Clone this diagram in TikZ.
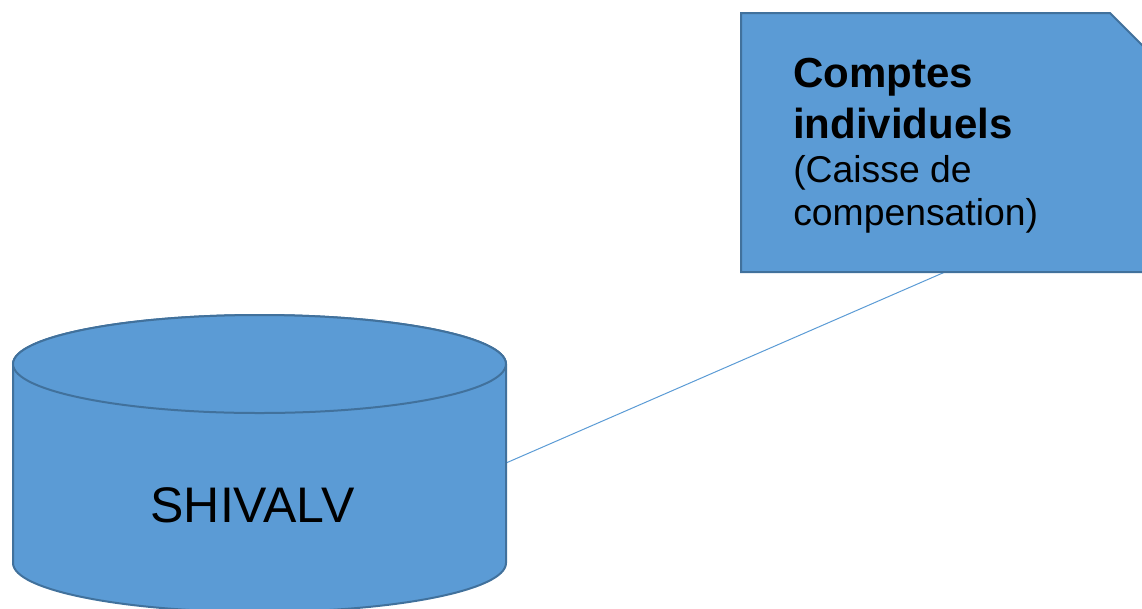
\documentclass[tikz,border=0pt]{standalone}
\usepackage{fontspec}
\setmainfont{Liberation Sans}
\definecolor{fillblue}{HTML}{5B9BD5}
\definecolor{edgeblue}{HTML}{41719C}
\begin{document}
\begin{tikzpicture}[x=0.75pt,y=-0.75pt,
  shapestyle/.style={fill=fillblue,draw=edgeblue,line width=1.5pt,line join=miter},
  link/.style={draw=fillblue,line width=0.75pt},
  boldline/.style={font=\fontsize{31.5}{37}\bfseries\selectfont,anchor=base west,inner sep=0pt},
  regline/.style={font=\fontsize{28}{33}\selectfont,anchor=base west,inner sep=0pt}]
\useasboundingbox (0,0) rectangle (1142,608);
% connector (beneath the shapes)
\coordinate (dbE) at (506,463);
\coordinate (noteS) at (945,272);
\draw[link] (dbE) -- (noteS);
% cylinder
\path[shapestyle] (13,364) -- (13,563)
  arc[start angle=180,end angle=0,x radius=246.5,y radius=49]
  -- (506,364)
  arc[start angle=0,end angle=-180,x radius=246.5,y radius=49] -- cycle;
\path[shapestyle] (259.5,364) ellipse[x radius=246.5,y radius=49];
\node[font=\fontsize{37.5}{45}\selectfont,anchor=base,inner sep=0pt] (dbname) at (252.5,522) {SHIVALV};
% note box
\path[shapestyle] (741,13) -- (1110,13) -- (1150,53) -- (1150,272) -- (741,272) -- cycle;
\node[boldline] (l1) at (793,87) {Comptes};
\node[boldline] (l2) at (793,138) {individuels};
\node[regline] (l3) at (793,182) {(Caisse de};
\node[regline] (l4) at (793,225) {compensation)};
\end{tikzpicture}
\end{document}
